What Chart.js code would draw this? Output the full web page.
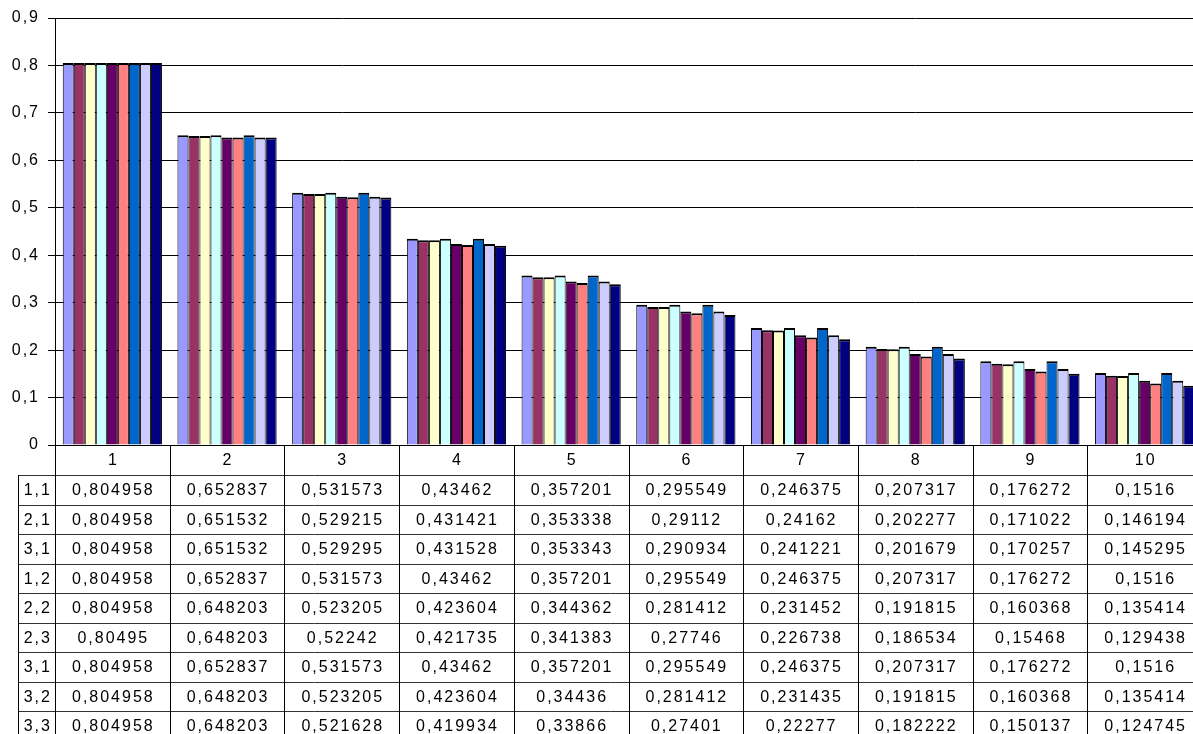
<!DOCTYPE html>
<html>
<head>
<meta charset="utf-8">
<script src="https://cdn.jsdelivr.net/npm/chart.js@4.4.1/dist/chart.umd.min.js"></script>
<style>
  html, body { margin: 0; padding: 0; background: #fff; overflow: hidden; }
  #wrap { width: 1193px; height: 734px; overflow: hidden; }
</style>
</head>
<body>
<div id="wrap"><canvas id="bars" width="1210" height="745"></canvas></div>
<script>
const categories = ["1", "2", "3", "4", "5", "6", "7", "8", "9", "10"];
const seriesNames = ["1,1", "2,1", "3,1", "1,2", "2,2", "2,3", "3,1", "3,2", "3,3"];
const s11 = [0.804958, 0.652837, 0.531573, 0.43462, 0.357201, 0.295549, 0.246375, 0.207317, 0.176272, 0.1516];
const s21 = [0.804958, 0.651532, 0.529215, 0.431421, 0.353338, 0.29112, 0.24162, 0.202277, 0.171022, 0.146194];
const s31 = [0.804958, 0.651532, 0.529295, 0.431528, 0.353343, 0.290934, 0.241221, 0.201679, 0.170257, 0.145295];
const s12 = [0.804958, 0.652837, 0.531573, 0.43462, 0.357201, 0.295549, 0.246375, 0.207317, 0.176272, 0.1516];
const s22 = [0.804958, 0.648203, 0.523205, 0.423604, 0.344362, 0.281412, 0.231452, 0.191815, 0.160368, 0.135414];
const s23 = [0.80495, 0.648203, 0.52242, 0.421735, 0.341383, 0.27746, 0.226738, 0.186534, 0.15468, 0.129438];
const s31b = [0.804958, 0.652837, 0.531573, 0.43462, 0.357201, 0.295549, 0.246375, 0.207317, 0.176272, 0.1516];
const s32 = [0.804958, 0.648203, 0.523205, 0.423604, 0.34436, 0.281412, 0.231435, 0.191815, 0.160368, 0.135414];
const s33 = [0.804958, 0.648203, 0.521628, 0.419934, 0.33866, 0.27401, 0.22277, 0.182222, 0.150137, 0.124745];
const yTicks = [0, 0.1, 0.2, 0.3, 0.4, 0.5, 0.6, 0.7, 0.8, 0.9];

const seriesValues = [s11, s21, s31, s12, s22, s23, s31b, s32, s33];
const colors = ["#9999ff", "#993366", "#ffffcc", "#ccffff", "#660066", "#ff8080", "#0066cc", "#ccccff", "#000080"];

const FONT = "16px 'Liberation Sans', Arial, sans-serif";
const fmt = v => String(v).replace(".", ",");

// data table under the plot, columns follow the x scale
const tablePlugin = {
  id: "dataTable",
  beforeDraw(chart) {
    chart.ctx.letterSpacing = "2px";
  },
  afterDraw(chart) {
    const ctx = chart.ctx;
    const area = chart.chartArea;
    const x = chart.scales.x;
    const step = x.getPixelForValue(1) - x.getPixelForValue(0);
    const bounds = categories.map((c, i) => x.getPixelForValue(i) - step / 2);
    bounds.push(x.getPixelForValue(categories.length - 1) + step / 2);
    const headTop = area.bottom;
    const headBottom = headTop + 30;
    const rowH = 29.5;
    const labelLeft = 18.5;
    const tableBottom = headBottom + rowH * seriesNames.length;

    ctx.save();
    ctx.letterSpacing = "2px";
    ctx.lineWidth = 1;

    // horizontal lines
    ctx.strokeStyle = "#333";
    for (let r = 0; r <= seriesNames.length; r++) {
      const y = Math.round(headBottom + rowH * r) + 0.5;
      ctx.beginPath();
      ctx.moveTo(labelLeft, y);
      ctx.lineTo(bounds[bounds.length - 1], y);
      ctx.stroke();
    }
    // vertical lines
    ctx.strokeStyle = "#000";
    bounds.forEach(bx => {
      const px = Math.round(bx) + 0.5;
      ctx.beginPath();
      ctx.moveTo(px, headTop);
      ctx.lineTo(px, tableBottom);
      ctx.stroke();
    });
    ctx.beginPath();
    ctx.moveTo(labelLeft, headBottom);
    ctx.lineTo(labelLeft, tableBottom);
    ctx.stroke();

    ctx.fillStyle = "#000";
    ctx.font = FONT;
    ctx.textAlign = "center";
    ctx.textBaseline = "middle";
    categories.forEach((c, i) => {
      ctx.fillText(c, x.getPixelForValue(i) + 1, (headTop + headBottom) / 2 + 1);
    });
    seriesNames.forEach((name, r) => {
      const cy = headBottom + rowH * r + rowH / 2 + 1;
      ctx.fillText(name, (labelLeft + bounds[0]) / 2 + 1, cy);
      seriesValues[r].forEach((v, i) => {
        ctx.fillText(fmt(v), x.getPixelForValue(i) + 1, cy);
      });
    });
    ctx.restore();
  }
};

new Chart(document.getElementById("bars"), {
  type: "bar",
  data: {
    labels: categories,
    datasets: seriesValues.map((vals, i) => ({
      label: seriesNames[i],
      data: vals,
      backgroundColor: colors[i],
      borderColor: "#000",
      borderWidth: { top: 2, left: 1, right: 1, bottom: 0 },
      categoryPercentage: 0.865,
      barPercentage: 1
    }))
  },
  options: {
    responsive: false,
    animation: false,
    devicePixelRatio: 1,
    layout: { padding: { top: 18, right: 8, bottom: 300, left: 0 } },
    plugins: {
      legend: { display: false },
      tooltip: { enabled: false }
    },
    scales: {
      x: { display: false },
      y: {
        min: 0,
        max: 0.9,
        afterBuildTicks: scale => {
          scale.ticks = yTicks.map(v => ({ value: v }));
        },
        afterFit: scale => { scale.width = 55; },
        ticks: {
          color: "#000",
          font: { family: "'Liberation Sans', Arial, sans-serif", size: 16 },
          padding: 8,
          callback: v => fmt(Math.round(v * 10) / 10)
        },
        grid: { color: "#000", lineWidth: 1, tickLength: 7 },
        border: { color: "#000", width: 1 }
      }
    }
  },
  plugins: [tablePlugin]
});
</script>
</body>
</html>
